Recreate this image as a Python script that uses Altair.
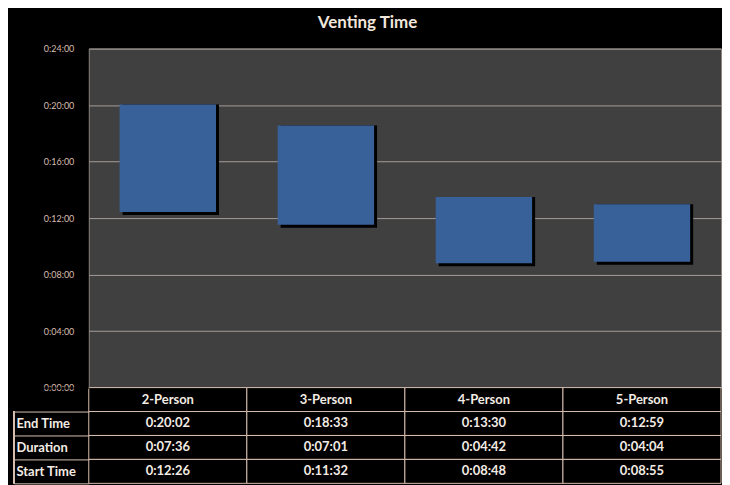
import altair as alt
import pandas as pd

categories = ["2-Person", "3-Person", "4-Person", "5-Person"]
end_times = ["0:20:02", "0:18:33", "0:13:30", "0:12:59"]
durations = ["0:07:36", "0:07:01", "0:04:42", "0:04:04"]
start_times = ["0:12:26", "0:11:32", "0:08:48", "0:08:55"]
row_labels = ["End Time", "Duration", "Start Time"]
y_tick_seconds = [0, 240, 480, 720, 960, 1200, 1440]


def to_sec(s):
    h, m, sec = map(int, s.split(":"))
    return h * 3600 + m * 60 + sec


bars = pd.DataFrame({
    "cat": categories,
    "start": [to_sec(s) for s in start_times],
    "end": [to_sec(s) for s in end_times],
})

cells = []
for i, c in enumerate(categories):
    cells.append({"cat": c, "row": "hdr", "label": c})
    cells.append({"cat": c, "row": "End Time", "label": end_times[i]})
    cells.append({"cat": c, "row": "Duration", "label": durations[i]})
    cells.append({"cat": c, "row": "Start Time", "label": start_times[i]})
cells = pd.DataFrame(cells)

FONT = "Lato"
BORDER = "#d8bfb0"
TXT = "#f3ebe4"
LBL = "#d9bcae"
PLOT_W = 634

x_scale = alt.Scale(domain=categories, paddingInner=0.39, paddingOuter=0.195)
y_axis = alt.Axis(
    values=y_tick_seconds, title=None, ticks=False, domain=False, grid=True,
    gridColor="#a59c98", gridWidth=1,
    labelExpr="'0:' + (floor(datum.value/60) < 10 ? '0' : '') + floor(datum.value/60) + ':00'",
    labelColor=LBL, labelFont=FONT, labelFontSize=9, labelPadding=15,
)
y_enc = alt.Y("start:Q", scale=alt.Scale(domain=[0, 1440], nice=False), axis=y_axis)

shadow = alt.Chart(bars).mark_bar(color="black", xOffset=3, yOffset=3).encode(
    x=alt.X("cat:N", scale=x_scale, axis=None), y=y_enc, y2="end:Q"
)
bar = alt.Chart(bars).mark_bar(color="#38619a").encode(
    x=alt.X("cat:N", scale=x_scale, axis=None), y=y_enc, y2="end:Q"
)
top = alt.layer(shadow, bar).properties(
    width=PLOT_W, height=340,
    view=alt.ViewBackground(fill="#404040", stroke="#8c8580"),
)

rows_order = ["hdr"] + row_labels
bx = alt.X("cat:N", scale=alt.Scale(domain=categories, paddingInner=0, paddingOuter=0), axis=None)
row_scale = alt.Scale(domain=rows_order, paddingInner=0, paddingOuter=0)
by = alt.Y(
    "row:N", scale=row_scale,
    axis=alt.Axis(
        title=None, tickBand="extent", tickSize=75,
        tickColor={"condition": {"test": "datum.extra", "value": "black"}, "value": BORDER},
        domain=False,
        labelExpr="datum.value == 'hdr' ? '' : datum.value",
        labelAlign="left", labelPadding=-2, labelFont=FONT, labelFontWeight="bold",
        labelFontSize=13, labelColor=TXT,
    ),
)
rects = alt.Chart(cells).mark_rect(fill="black", stroke=BORDER, strokeWidth=1).encode(x=bx, y=by)
texts = alt.Chart(cells).mark_text(font=FONT, fontWeight="bold", fontSize=13, color=TXT).encode(
    x=bx, y=by, text="label:N"
)
left_rule = alt.Chart(cells).mark_rule(color=BORDER, strokeWidth=1).encode(
    x=alt.value(-75),
    y=alt.Y(datum="End Time", type="nominal", bandPosition=0, scale=row_scale),
    y2=alt.Y2(datum="Start Time", bandPosition=1),
)
bottom = alt.layer(rects, texts, left_rule).properties(
    width=PLOT_W, height=96,
    view=alt.ViewBackground(stroke=None),
)

chart = alt.vconcat(top, bottom, spacing=0, bounds="flush").properties(
    title=alt.TitleParams("Venting Time", font=FONT, fontSize=17, fontWeight="bold",
                          color="#f2e6dc", anchor="middle", offset=12),
    background="black",
    padding={"left": 5, "top": 5, "right": 0, "bottom": 0},
)

chart.save("out.html", embed_options={"renderer": "svg", "actions": False})
